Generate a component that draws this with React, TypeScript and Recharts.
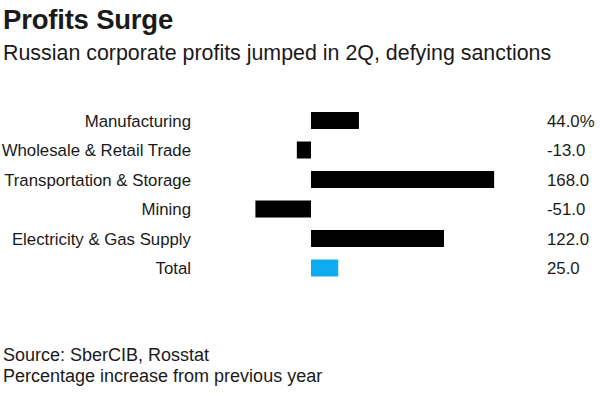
import { BarChart, Bar, XAxis, YAxis, Cell } from 'recharts';

const categories = [
  'Manufacturing',
  'Wholesale & Retail Trade',
  'Transportation & Storage',
  'Mining',
  'Electricity & Gas Supply',
  'Total',
];
const values = [44, -13, 168, -51, 122, 25];
const valueLabels = ['44.0%', '-13.0', '168.0', '-51.0', '122.0', '25.0'];

const FONT = '"Liberation Sans", Arial, Helvetica, sans-serif';
const TEXT = '#1a1a1a';

const data = categories.map((name, i) => ({
  name,
  value: values[i],
  label: valueLabels[i],
}));

export default function App() {
  return (
    <div
      style={{
        position: 'absolute',
        left: 0,
        top: 0,
        width: 600,
        height: 398,
        background: '#fff',
        fontFamily: FONT,
        color: TEXT,
      }}
    >
      {/* Header */}
      <div style={{ position: 'absolute', left: 3, top: 4, fontSize: 27.5, fontWeight: 700, letterSpacing: -0.2 }}>
        Profits Surge
      </div>
      <div style={{ position: 'absolute', left: 3, top: 41, fontSize: 21.4 }}>
        Russian corporate profits jumped in 2Q, defying sanctions
      </div>

      {/* Chart */}
      <div style={{ position: 'absolute', left: 0, top: 106 }}>
        <BarChart
          width={600}
          height={177}
          data={data}
          layout="vertical"
          margin={{ top: 0, right: 0, bottom: 0, left: 0 }}
        >
          <XAxis type="number" domain={[-100, 200]} hide />
          <YAxis
            yAxisId="left"
            type="category"
            dataKey="name"
            width={202}
            axisLine={false}
            tickLine={false}
            tickMargin={5}
            interval={0}
            tick={{ fontSize: 16.8, fill: TEXT, fontFamily: FONT }}
          />
          <YAxis
            yAxisId="right"
            orientation="right"
            type="category"
            dataKey="label"
            width={71}
            axisLine={false}
            tickLine={false}
            tickMargin={12}
            interval={0}
            tick={{ fontSize: 16.8, fill: TEXT, fontFamily: FONT }}
          />
          <Bar yAxisId="left" dataKey="value" barSize={17} isAnimationActive={false}>
            {data.map((d) => (
              <Cell key={d.name} fill={d.name === 'Total' ? '#0dabf0' : '#000000'} />
            ))}
          </Bar>
        </BarChart>
      </div>

      {/* Footer */}
      <div style={{ position: 'absolute', left: 3, top: 345, fontSize: 18, lineHeight: '21px' }}>
        Source: SberCIB, Rosstat
        <br />
        Percentage increase from previous year
      </div>
    </div>
  );
}
